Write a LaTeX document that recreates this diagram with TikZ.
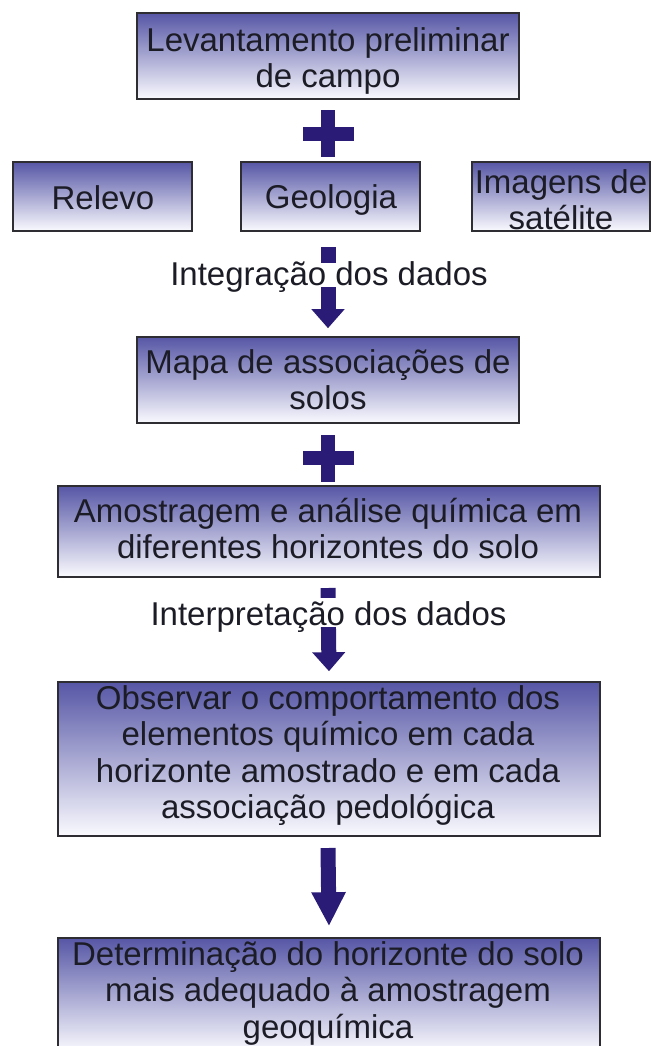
\documentclass[tikz,border=0pt]{standalone}
\usepackage{fontspec}
\setmainfont{Liberation Sans}
\usetikzlibrary{arrows.meta}
\definecolor{boxtop}{RGB}{86,86,166}
\definecolor{boxbot}{RGB}{250,250,255}
\definecolor{navy}{RGB}{42,28,118}
\definecolor{ink}{RGB}{28,28,38}
\definecolor{edge}{RGB}{45,45,50}
\newcommand{\firstln}{\rule{0pt}{30pt}}
\begin{document}
\begin{tikzpicture}[x=1pt,y=-1pt,
  box/.style={draw=edge, line width=1.6pt, top color=boxtop, bottom color=boxbot, inner sep=0pt},
  txt/.style={inner sep=0pt, align=center, text=ink, anchor=north,
    font=\fontsize{33}{36.5}\selectfont},
  lbl/.style={fill=white, inner sep=0pt, text=ink, font=\fontsize{33}{36.5}\selectfont, anchor=base},
  blockarrow/.style={draw=navy, line width=15pt, -{Triangle[width=32pt,length=19pt]}},
  plusbar/.style={fill=navy}
]
\useasboundingbox (0,0) rectangle (651,1046);

% boxes
\node[box, minimum width=382pt, minimum height=86pt] (b1) at (328,56) {};
\node[box, minimum width=179pt, minimum height=69pt] (rel) at (102.5,196.5) {};
\node[box, minimum width=179pt, minimum height=69pt] (geo) at (330.5,196.5) {};
\node[box, minimum width=178pt, minimum height=69pt] (img) at (561,196.5) {};
\node[box, minimum width=382pt, minimum height=86pt] (b2) at (328,380) {};
\node[box, minimum width=542pt, minimum height=91pt] (b3) at (329,531.5) {};
\node[box, minimum width=542pt, minimum height=154pt] (b4) at (329,759) {};
\node[box, minimum width=542pt, minimum height=114pt] (b5) at (329,995) {};

% texts (placed by first baseline: north = baseline - 30)
\node[txt] (t1) at (328,21) {\firstln Levantamento preliminar\\de campo};
\node[txt] (trel) at (103,179) {\firstln Relevo};
\node[txt] (tgeo) at (331,178) {\firstln Geologia};
\node[txt] (timg) at (561,163) {\firstln Imagens de\\satélite};
\node[txt] (t2) at (328,343) {\firstln Mapa de associações de\\solos};
\node[txt] (t3) at (328,492) {\firstln Amostragem e análise química em\\diferentes horizontes do solo};
\node[txt] (t4) at (328,679) {\firstln Observar o comportamento dos\\elementos químico em cada\\horizonte amostrado e em cada\\associação pedológica};
\node[txt] (t5) at (328,935) {\firstln Determinação do horizonte do solo\\mais adequado à amostragem\\geoquímica};

% plus signs
\fill[plusbar] (321,110) rectangle (335,157);
\fill[plusbar] (303,127) rectangle (354,141);
\fill[plusbar] (321,435) rectangle (335,482);
\fill[plusbar] (303,451) rectangle (354,465);

% arrows
\coordinate (a1) at (328,247);
\coordinate (a2) at (328,588);
\coordinate (a3) at (328,848);
\draw[blockarrow] (a1) -- ([yshift=8pt]b2.north);
\draw[blockarrow] (a2) -- ([yshift=10pt]b4.north);
\draw[blockarrow, -{Triangle[width=32pt,length=34pt]}] (a3) -- ([yshift=11pt]b5.north);

% labels
\node[lbl, text height=22pt, text depth=2pt] (l1) at (329,285) {Integração dos dados};
\node[lbl, text height=27pt, text depth=2pt] (l2) at (328.5,625) {Interpretação dos dados};
\end{tikzpicture}
\end{document}
